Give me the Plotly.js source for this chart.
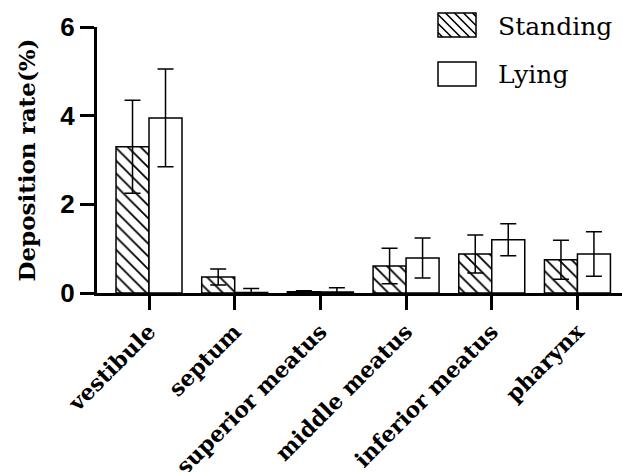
<!DOCTYPE html>
<html>
<head>
<meta charset="utf-8">
<script src="https://cdn.plot.ly/plotly-3.0.1.min.js"></script>
<style>html,body{margin:0;padding:0;background:#fff;}#chart{width:622px;height:472px;}</style>
</head>
<body>
<div id="chart"></div>
<script>
const categories = ['vestibule', 'septum', 'superior meatus', 'middle meatus', 'inferior meatus', 'pharynx'];
const standing = [3.30, 0.36, 0.03, 0.61, 0.88, 0.75];
const standingErr = [1.05, 0.18, 0.02, 0.40, 0.43, 0.44];
const lying = [3.95, 0.01, 0.02, 0.79, 1.20, 0.88];
const lyingErr = [1.10, 0.09, 0.10, 0.45, 0.36, 0.50];
const seriesNames = ['Standing', 'Lying'];
const yTicks = [0, 2, 4, 6];

const W = 622, H = 472;
const margin = {l: 97, r: 0, t: 27, b: 179};
const pw = W - margin.l - margin.r, ph = H - margin.t - margin.b;
function px2x(px) { return (px - margin.l) / pw; }
function px2y(py) { return (H - margin.b - py) / ph; }

const serif = 'DejaVu Serif, serif';

const traces = [
  {
    type: 'bar', name: seriesNames[0], x: categories, y: standing,
    marker: {color: 'white', line: {color: 'black', width: 1.5},
      pattern: {shape: '\\', fgcolor: 'black', bgcolor: 'white', size: 9, solidity: 0.2}},
    error_y: {type: 'data', array: standingErr, visible: true, color: 'black', thickness: 1.5, width: 8}
  },
  {
    type: 'bar', name: seriesNames[1], x: categories, y: lying,
    marker: {color: 'white', line: {color: 'black', width: 1.5}},
    error_y: {type: 'data', array: lyingErr, visible: true, color: 'black', thickness: 1.5, width: 8}
  }
];

// custom legend (boxes + labels)
const shapes = [];
const annotations = [];
function hatchPath(x0, y0, x1, y1, step) {
  let d = '';
  const h = y1 - y0;
  for (let a = x0 - h + step / 2; a < x1; a += step) {
    let sx = a, sy = y0, ex = a + h, ey = y1;
    if (sx < x0) { sy = y0 + (x0 - sx); sx = x0; }
    if (ex > x1) { ey = y1 - (ex - x1); ex = x1; }
    if (sy >= ey) continue;
    d += 'M' + px2x(sx).toFixed(5) + ',' + px2y(sy).toFixed(5) + 'L' + px2x(ex).toFixed(5) + ',' + px2y(ey).toFixed(5);
  }
  return d;
}
const legendRows = [{y0: 13, y1: 37, cy: 26, hatch: true}, {y0: 62, y1: 86, cy: 74, hatch: false}];
legendRows.forEach((r, i) => {
  if (r.hatch) {
    shapes.push({type: 'path', xref: 'paper', yref: 'paper', path: hatchPath(438, r.y0, 476, r.y1, 9),
      line: {color: 'black', width: 1.6}});
  }
  shapes.push({type: 'rect', xref: 'paper', yref: 'paper', x0: px2x(438), x1: px2x(476),
    y0: px2y(r.y1), y1: px2y(r.y0), line: {color: 'black', width: 1.5}, fillcolor: 'rgba(0,0,0,0)'});
  annotations.push({xref: 'paper', yref: 'paper', x: px2x(496), y: px2y(r.cy), xanchor: 'left', yanchor: 'middle',
    text: seriesNames[i], showarrow: false, font: {family: serif, size: 25, color: 'black'}});
});

const layout = {
  width: W, height: H,
  margin: margin,
  paper_bgcolor: 'white', plot_bgcolor: 'white',
  showlegend: false,
  barmode: 'group', bargap: 0.23, bargroupgap: 0,
  xaxis: {
    type: 'category', range: [-0.607, 5.52],
    showline: true, linecolor: 'black', linewidth: 3,
    ticks: 'outside', ticklen: 14, tickwidth: 3, tickcolor: 'black',
    tickangle: -45, showgrid: false, zeroline: false,
    tickfont: {family: serif, size: 22, color: 'black', weight: 'bold'}
  },
  yaxis: {
    range: [0, 6], tickvals: yTicks, ticktext: yTicks.map(String),
    showline: true, linecolor: 'black', linewidth: 3,
    ticks: 'outside', ticklen: 14, tickwidth: 3, tickcolor: 'black',
    showgrid: false, zeroline: false,
    tickfont: {family: 'Arial, Liberation Sans, sans-serif', size: 26, color: 'black', weight: 'bold'},
    title: {text: 'Deposition rate(%)', standoff: 19,
      font: {family: serif, size: 23, color: 'black', weight: 'bold'}}
  },
  shapes: shapes,
  annotations: annotations
};

Plotly.newPlot('chart', traces, layout, {displayModeBar: false, staticPlot: true});
</script>
</body>
</html>
